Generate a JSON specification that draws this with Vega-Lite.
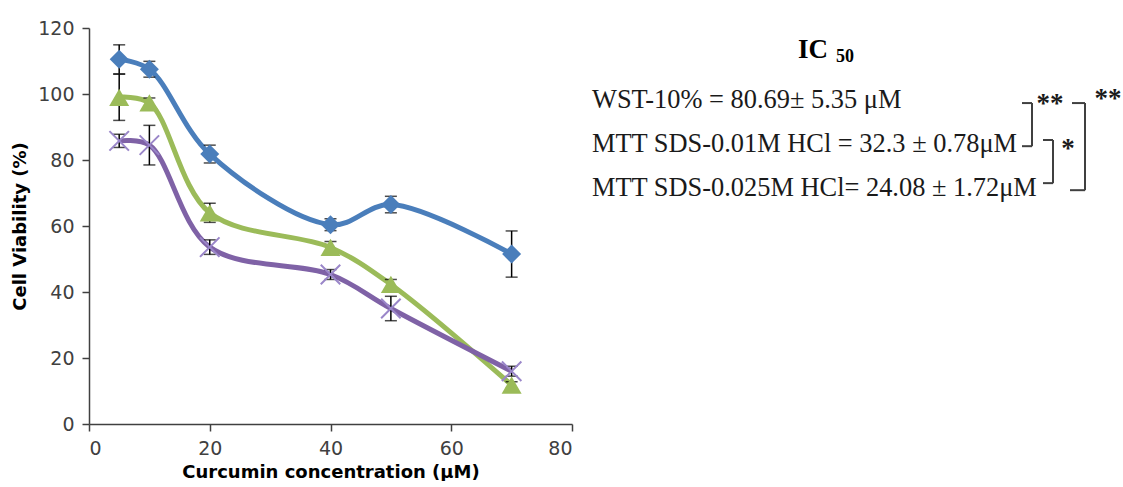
{
  "$schema": "https://vega.github.io/schema/vega-lite/v6.json",
  "background": "white",
  "padding": {"left": 11, "top": 19, "right": 0, "bottom": 0},
  "bounds": "flush",
  "spacing": 20,
  "config": {"view": {"stroke": null}, "font": "DejaVu Sans"},
  "datasets": {
    "viability": [
      {"series": "WST-10%", "conc": 5, "mean": 110.5, "sd": 4.4},
      {"series": "WST-10%", "conc": 10, "mean": 107.5, "sd": 2.4},
      {"series": "WST-10%", "conc": 20, "mean": 81.8, "sd": 2.7},
      {"series": "WST-10%", "conc": 40, "mean": 60.4, "sd": 1.8},
      {"series": "WST-10%", "conc": 50, "mean": 66.5, "sd": 2.5},
      {"series": "WST-10%", "conc": 70, "mean": 51.5, "sd": 7},
      {"series": "MTT SDS-0.01M HCl", "conc": 5, "mean": 99, "sd": 7},
      {"series": "MTT SDS-0.01M HCl", "conc": 10, "mean": 97.3, "sd": 1.5},
      {"series": "MTT SDS-0.01M HCl", "conc": 20, "mean": 64, "sd": 2.9},
      {"series": "MTT SDS-0.01M HCl", "conc": 40, "mean": 53.5, "sd": 1.8},
      {"series": "MTT SDS-0.01M HCl", "conc": 50, "mean": 42.3, "sd": 1.5},
      {"series": "MTT SDS-0.01M HCl", "conc": 70, "mean": 11.8, "sd": 1},
      {"series": "MTT SDS-0.025M HCl", "conc": 5, "mean": 85.8, "sd": 2},
      {"series": "MTT SDS-0.025M HCl", "conc": 10, "mean": 84.5, "sd": 6},
      {"series": "MTT SDS-0.025M HCl", "conc": 20, "mean": 53.6, "sd": 2.2},
      {"series": "MTT SDS-0.025M HCl", "conc": 40, "mean": 45.3, "sd": 1.5},
      {"series": "MTT SDS-0.025M HCl", "conc": 50, "mean": 35, "sd": 3.7},
      {"series": "MTT SDS-0.025M HCl", "conc": 70, "mean": 16, "sd": 1.5}
    ],
    "ic50": [
      {"label": "WST-10% = 80.69± 5.35 μM", "row": 1},
      {"label": "MTT SDS-0.01M HCl = 32.3 ± 0.78μM", "row": 2},
      {"label": "MTT SDS-0.025M HCl= 24.08 ± 1.72μM", "row": 3}
    ],
    "title": [
      {"label": "IC", "part": "main", "row": -0.14, "col": 236},
      {"label": "50", "part": "sub", "row": 0.03, "col": 244}
    ],
    "brackets": [
      {"x": 440, "x2": 440, "y": 1.07, "y2": 2.05},
      {"x": 430, "x2": 440, "y": 1.07, "y2": 1.07},
      {"x": 430, "x2": 440, "y": 2.05, "y2": 2.05},
      {"x": 461, "x2": 461, "y": 1.91, "y2": 2.89},
      {"x": 451, "x2": 461, "y": 1.91, "y2": 1.91},
      {"x": 451, "x2": 461, "y": 2.89, "y2": 2.89},
      {"x": 493, "x2": 493, "y": 1.07, "y2": 3.05},
      {"x": 480, "x2": 493, "y": 1.07, "y2": 1.07},
      {"x": 478, "x2": 493, "y": 3.05, "y2": 3.05}
    ],
    "stars": [
      {"label": "**", "col": 458, "row": 1.08},
      {"label": "**", "col": 516, "row": 0.98},
      {"label": "*", "col": 476, "row": 2.12}
    ]
  },
  "hconcat": [
    {
      "width": 483,
      "height": 396,
      "data": {"name": "viability"},
      "encoding": {
        "x": {
          "field": "conc", "type": "quantitative",
          "scale": {"domain": [0, 80], "nice": false},
          "axis": {
            "values": [0, 20, 40, 60, 80], "grid": false,
            "title": "Curcumin concentration (µM)",
            "titleFont": "DejaVu Sans", "titleFontWeight": "bold", "titleFontSize": 18, "titleColor": "#000",
            "titlePadding": 5,
            "labelFont": "DejaVu Sans", "labelFontSize": 19, "labelColor": "#404040", "labelPadding": 8,
            "domainColor": "#404040", "domainWidth": 1.5, "tickColor": "#404040", "tickWidth": 1.5, "tickSize": 7
          }
        },
        "y": {
          "field": "mean", "type": "quantitative",
          "scale": {"domain": [0, 120], "nice": false},
          "axis": {
            "values": [0, 20, 40, 60, 80, 100, 120], "grid": false,
            "title": "Cell Viability (%)",
            "titleFont": "DejaVu Sans", "titleFontWeight": "bold", "titleFontSize": 18, "titleColor": "#000",
            "titlePadding": 8,
            "labelFont": "DejaVu Sans", "labelFontSize": 19, "labelColor": "#404040", "labelPadding": 8,
            "domainColor": "#404040", "domainWidth": 1.5, "tickColor": "#404040", "tickWidth": 1.5, "tickSize": 7
          }
        }
      },
      "layer": [
        {
          "mark": {"type": "line", "interpolate": "catmull-rom", "strokeWidth": 5},
          "encoding": {
            "color": {
              "field": "series", "type": "nominal", "legend": null,
              "scale": {
                "domain": ["WST-10%", "MTT SDS-0.01M HCl", "MTT SDS-0.025M HCl"],
                "range": ["#4a7ebb", "#9bbb59", "#7f62a6"]
              }
            }
          }
        },
        {
          "mark": {"type": "errorbar", "ticks": true, "color": "#000", "thickness": 1.5, "size": 12},
          "encoding": {"yError": {"field": "sd"}}
        },
        {
          "transform": [{"filter": "datum.series === 'WST-10%'"}],
          "mark": {"type": "point", "shape": "diamond", "filled": true, "size": 360, "color": "#4a7ebb", "opacity": 1}
        },
        {
          "transform": [{"filter": "datum.series === 'MTT SDS-0.01M HCl'"}],
          "mark": {"type": "point", "shape": "triangle-up", "filled": true, "size": 400, "color": "#9bbb59", "opacity": 1}
        },
        {
          "transform": [{"filter": "datum.series === 'MTT SDS-0.025M HCl'"}],
          "mark": {"type": "point", "shape": "M-1,-1L1,1M-1,1L1,-1", "filled": false, "size": 380, "stroke": "#9a86c9", "strokeWidth": 2, "opacity": 1}
        }
      ]
    },
    {
      "width": 531,
      "height": 396,
      "layer": [
        {
          "data": {"name": "ic50"},
          "mark": {"type": "text", "align": "left", "baseline": "middle", "font": "Liberation Serif", "fontSize": 26.4, "color": "#1a1a1a"},
          "encoding": {
            "x": {"datum": 0, "type": "quantitative", "scale": {"domain": [0, 531]}, "axis": null},
            "y": {"field": "row", "type": "quantitative", "scale": {"domain": [-0.636, 8.364], "reverse": true}, "axis": null},
            "text": {"field": "label"}
          }
        },
        {
          "data": {"name": "title"},
          "transform": [{"filter": "datum.part === 'main'"}],
          "mark": {"type": "text", "align": "right", "baseline": "middle", "font": "Liberation Serif", "fontSize": 27, "fontWeight": "bold", "color": "#000"},
          "encoding": {
            "x": {"field": "col", "type": "quantitative", "scale": {"domain": [0, 531]}, "axis": null},
            "y": {"field": "row", "type": "quantitative", "scale": {"domain": [-0.636, 8.364], "reverse": true}, "axis": null},
            "text": {"field": "label"}
          }
        },
        {
          "data": {"name": "title"},
          "transform": [{"filter": "datum.part === 'sub'"}],
          "mark": {"type": "text", "align": "left", "baseline": "middle", "font": "Liberation Serif", "fontSize": 18, "fontWeight": "bold", "color": "#000"},
          "encoding": {
            "x": {"field": "col", "type": "quantitative", "scale": {"domain": [0, 531]}, "axis": null},
            "y": {"field": "row", "type": "quantitative", "scale": {"domain": [-0.636, 8.364], "reverse": true}, "axis": null},
            "text": {"field": "label"}
          }
        },
        {
          "data": {"name": "brackets"},
          "mark": {"type": "rule", "color": "#404040", "strokeWidth": 2},
          "encoding": {
            "x": {"field": "x", "type": "quantitative", "scale": {"domain": [0, 531]}, "axis": null},
            "x2": {"field": "x2"},
            "y": {"field": "y", "type": "quantitative", "scale": {"domain": [-0.636, 8.364], "reverse": true}, "axis": null},
            "y2": {"field": "y2"}
          }
        },
        {
          "data": {"name": "stars"},
          "mark": {"type": "text", "align": "center", "baseline": "middle", "font": "Liberation Serif", "fontSize": 27, "fontWeight": "bold", "color": "#1a1a1a"},
          "encoding": {
            "x": {"field": "col", "type": "quantitative", "scale": {"domain": [0, 531]}, "axis": null},
            "y": {"field": "row", "type": "quantitative", "scale": {"domain": [-0.636, 8.364], "reverse": true}, "axis": null},
            "text": {"field": "label"}
          }
        }
      ]
    }
  ]
}
